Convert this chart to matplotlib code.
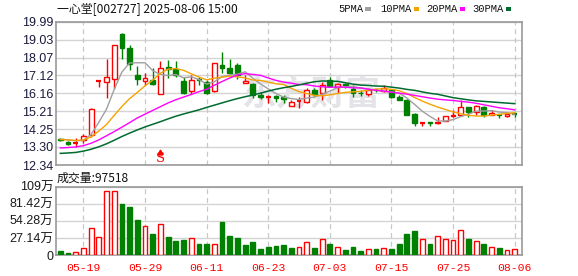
import matplotlib
matplotlib.use('Agg')
import matplotlib.pyplot as plt
from matplotlib.patches import Rectangle
import pandas as pd

# ---------------- data ----------------
opens = [13.72, 13.57, 13.50, 13.67, 13.94, 16.84, 16.79, 16.91, 19.33, 18.57,
         17.14, 16.84, 16.88, 16.13, 17.57, 17.45, 16.82, 16.31, 16.91, 16.79,
         16.28, 17.68, 17.50, 17.68, 16.73, 16.65, 16.06, 15.93, 16.00, 15.95,
         15.49, 15.72, 15.72, 16.34, 16.20, 16.88, 16.52, 16.64, 16.40, 16.19,
         16.10, 16.33, 16.31, 16.32, 15.94, 15.80, 15.04, 14.58, 14.62, 14.56,
         14.69, 14.96, 15.01, 15.42, 15.19, 15.45, 15.01, 15.03, 14.96, 15.08]
highs = [13.76, 13.62, 13.76, 13.98, 15.37, 16.86, 17.98, 18.72, 19.40, 18.74,
         17.62, 17.27, 17.53, 17.86, 17.94, 17.86, 17.05, 17.14, 17.02, 16.88,
         17.80, 18.35, 17.98, 17.77, 17.14, 16.73, 16.25, 16.08, 16.08, 16.08,
         15.81, 15.95, 16.43, 16.43, 16.79, 17.05, 16.70, 16.70, 16.61, 16.34,
         16.43, 16.40, 16.60, 16.40, 16.05, 15.84, 15.10, 14.62, 14.63, 14.88,
         14.97, 15.28, 15.81, 15.45, 15.54, 15.49, 15.28, 15.04, 15.05, 15.10]
lows = [13.60, 13.43, 13.32, 13.53, 13.85, 16.50, 15.90, 16.38, 17.98, 17.41,
        16.61, 16.61, 16.61, 16.10, 16.97, 17.05, 16.13, 16.13, 16.61, 16.13,
        16.23, 17.23, 17.20, 16.91, 16.70, 15.90, 15.85, 15.67, 15.72, 15.63,
        15.49, 15.37, 15.67, 16.02, 15.81, 16.52, 16.20, 16.45, 15.99, 16.02,
        16.02, 16.25, 16.25, 15.90, 15.78, 14.99, 14.42, 14.42, 14.42, 14.55,
        14.68, 14.88, 15.00, 14.88, 15.01, 14.92, 15.00, 14.85, 14.92, 14.88]
closes = [13.66, 13.48, 13.52, 13.89, 15.31, 16.84, 17.02, 18.72, 18.57, 17.71,
          16.93, 17.00, 16.65, 17.53, 17.46, 17.14, 16.17, 16.88, 16.86, 16.20,
          17.77, 17.53, 17.27, 17.14, 16.82, 16.08, 15.99, 15.95, 15.90, 15.86,
          15.72, 15.74, 16.34, 16.13, 16.61, 16.57, 16.66, 16.60, 16.20, 16.16,
          16.33, 16.30, 16.43, 15.96, 15.83, 15.03, 14.60, 14.61, 14.58, 14.65,
          14.96, 15.01, 15.42, 15.19, 15.49, 15.01, 15.10, 15.02, 15.04, 15.05]
volumes_wan = [6.4, 3.2, 4.2, 10.6, 42.4, 28.6, 101.7, 101.7, 81.0, 76.3,
               55.6, 45.5, 33.4, 48.7, 29.1, 22.2, 23.8, 26.5, 17.5, 17.5,
               16.9, 52.4, 30.2, 27.0, 15.9, 20.7, 9.5, 12.7, 14.3, 15.9,
               11.1, 12.7, 20.1, 11.1, 25.4, 17.5, 12.7, 7.9, 13.2, 6.4,
               9.0, 9.5, 10.6, 9.5, 17.5, 33.4, 38.1, 25.4, 17.5, 30.2,
               25.4, 23.8, 39.2, 25.4, 22.2, 17.5, 12.7, 11.1, 7.4, 9.7518]
ma5 = [13.72, 13.68, 13.63, 13.65, 13.97, 14.62, 15.32, 16.37, 17.30, 17.78,
       17.79, 17.79, 17.37, 17.16, 17.11, 17.16, 16.99, 17.04, 16.90, 16.65,
       16.78, 17.05, 17.13, 17.18, 17.31, 16.97, 16.66, 16.40, 16.15, 15.96,
       15.88, 15.83, 15.91, 15.96, 16.11, 16.28, 16.46, 16.51, 16.53, 16.44,
       16.39, 16.32, 16.28, 16.24, 16.17, 15.91, 15.57, 15.21, 14.93, 14.69,
       14.68, 14.76, 14.92, 15.05, 15.21, 15.22, 15.24, 15.16, 15.13, 15.04]
ma10 = [13.70, 13.68, 13.65, 13.67, 13.84, 14.15, 14.50, 14.99, 15.46, 15.88,
        16.21, 16.56, 16.87, 17.23, 17.45, 17.48, 17.39, 17.20, 17.03, 16.88,
        16.97, 17.02, 17.08, 17.04, 16.98, 16.87, 16.85, 16.76, 16.67, 16.63,
        16.43, 16.25, 16.15, 16.05, 16.03, 16.08, 16.15, 16.21, 16.24, 16.27,
        16.33, 16.39, 16.40, 16.38, 16.30, 16.15, 15.94, 15.75, 15.58, 15.43,
        15.30, 15.17, 15.07, 14.99, 14.95, 14.95, 15.00, 15.04, 15.09, 15.13]
ma20 = [13.25, 13.27, 13.30, 13.37, 13.50, 13.68, 13.90, 14.12, 14.36, 14.60,
        14.85, 15.05, 15.25, 15.45, 15.65, 15.82, 15.96, 16.10, 16.25, 16.38,
        16.59, 16.79, 16.98, 17.14, 17.21, 17.17, 17.12, 16.98, 16.85, 16.76,
        16.70, 16.63, 16.62, 16.55, 16.51, 16.48, 16.50, 16.49, 16.45, 16.45,
        16.38, 16.32, 16.28, 16.22, 16.17, 16.12, 16.05, 15.98, 15.91, 15.85,
        15.81, 15.78, 15.73, 15.69, 15.63, 15.55, 15.47, 15.39, 15.34, 15.28]
ma30 = [12.96, 12.98, 13.01, 13.08, 13.18, 13.31, 13.47, 13.66, 13.86, 14.04,
        14.21, 14.37, 14.51, 14.65, 14.80, 14.94, 15.06, 15.17, 15.28, 15.41,
        15.53, 15.65, 15.77, 15.88, 15.98, 16.07, 16.17, 16.28, 16.38, 16.46,
        16.53, 16.61, 16.70, 16.78, 16.82, 16.81, 16.80, 16.73, 16.65, 16.60,
        16.58, 16.55, 16.54, 16.49, 16.44, 16.37, 16.32, 16.24, 16.16, 16.11,
        16.02, 15.93, 15.87, 15.81, 15.76, 15.73, 15.70, 15.67, 15.64, 15.61]

price_ticks = [19.99, 19.03, 18.07, 17.12, 16.16, 15.21, 14.25, 13.30, 12.34]
vol_ticks = [0, 27.14, 54.28, 81.42, 108.56]
vol_tick_labels = ['0', '27.14万', '54.28万', '81.42万', '109万']
date_tick_labels = ['05-19', '05-29', '06-11', '06-23', '07-03', '07-15', '07-25', '08-06']
signal_label = 'S'
signal_date = '06-03'

days = pd.bdate_range('2025-05-14', '2025-08-06')
days = [d for d in days if d.strftime('%Y-%m-%d') != '2025-06-02']
date_strs = [d.strftime('%m-%d') for d in days]
n = len(closes)
xs = list(range(n))

RED = '#ff0000'
GREEN = '#008000'
GRID = '#d4d4d4'
VGRID = '#c8c8c8'
BORDER = '#999999'

W, H = 578, 276
fig = plt.figure(figsize=(W / 100, H / 100), dpi=100)
fig.patch.set_facecolor('white')

def fbox(l, t, r, b):
    return [l / W, 1 - b / H, (r - l) / W, (b - t) / H]

ax = fig.add_axes(fbox(56, 21.5, 522, 165))
axv = fig.add_axes(fbox(56, 186.7, 522, 255))

num_font = ['Liberation Sans', 'Noto Sans CJK SC']
tick_pos = [date_strs.index(l) for l in date_tick_labels]

for a in (ax, axv):
    a.set_xlim(-0.56, n - 0.05)
    for s in a.spines.values():
        s.set_color(BORDER)
        s.set_linewidth(1.2)
    a.tick_params(length=0)
    for tp in tick_pos:
        a.axvline(tp, color=VGRID, lw=0.9, ls=(0, (4, 3)), zorder=0.6)
    a.set_xticks(tick_pos)

# ---------------- price panel ----------------
ax.set_ylim(price_ticks[-1], price_ticks[0])
ax.set_yticks(price_ticks)
ax.set_yticklabels([f'{v:.2f}' for v in price_ticks], fontfamily=num_font,
                   fontsize=9, color='#1a1a3c')
ax.tick_params(axis='y', pad=2)
ax.set_xticklabels([])
for v in price_ticks:
    ax.axhline(v, color=GRID, lw=1.0, zorder=0.5)

# watermark
ax.text(32.6, 16.12, '东方财富', fontfamily=['Noto Sans CJK SC'], fontsize=25,
        fontweight='bold', color='#e3e3e8', ha='center', va='center', zorder=0.7)

bw = 0.62
for i in xs:
    o, h, l, c = opens[i], highs[i], lows[i], closes[i]
    up = c >= o
    col = RED if up else GREEN
    top, bot = max(o, c), min(o, c)
    ax.vlines(i, l, h, color=col, lw=1.0, zorder=3)
    if top - bot < 0.03:
        ax.hlines((o + c) / 2, i - bw / 2, i + bw / 2, color=col, lw=1.6, zorder=4)
    else:
        ax.add_patch(Rectangle((i - bw / 2, bot), bw, top - bot,
                               facecolor='white' if up else col,
                               edgecolor=col, lw=1.0, zorder=4))

ax.plot(xs, ma5, color='#a0a0a0', lw=1.0, zorder=5)
ax.plot(xs, ma10, color='#f5a300', lw=1.0, zorder=5)
ax.plot(xs, ma20, color='#ff00ff', lw=1.0, zorder=5)
ax.plot(xs, ma30, color='#006b2e', lw=1.1, zorder=5)

sx = date_strs.index(signal_date)
ax.text(sx, 12.66, signal_label, color=RED, fontsize=9.5, fontfamily=['DejaVu Serif'],
        ha='center', va='center', zorder=6)
ax.plot([sx], [13.02], marker='^', color=RED, markersize=3.5, zorder=6)

# ---------------- volume panel ----------------
axv.set_ylim(0, vol_ticks[-1])
axv.set_yticks(vol_ticks)
axv.set_yticklabels(vol_tick_labels, fontfamily=num_font, fontsize=9, color='#1a1a1a')
axv.tick_params(axis='y', pad=2)
for v in vol_ticks:
    axv.axhline(v, color=GRID, lw=1.0, zorder=0.5)
axv.set_xticklabels(date_tick_labels, fontfamily=['Liberation Mono'], fontsize=8.2,
                    color=RED)
axv.tick_params(axis='x', pad=6)

for i in xs:
    prev = closes[i - 1] if i > 0 else opens[i]
    up = closes[i] >= prev
    col = RED if up else GREEN
    axv.add_patch(Rectangle((i - bw / 2, 0), bw, volumes_wan[i],
                            facecolor='white' if up else col,
                            edgecolor=col, lw=1.0, zorder=3))

# ---------------- texts ----------------
fig.text(57 / W, 1 - 8.5 / H, '一心堂[002727] 2025-08-06 15:00',
         fontfamily=['Noto Sans CJK SC'], fontsize=8.6, color='#111111',
         ha='left', va='center')
fig.text(57 / W, 1 - 178 / H, '成交量:%d' % round(volumes_wan[-1] * 10000),
         fontfamily=['Noto Sans CJK SC'], fontsize=8.6, color='#111111',
         ha='left', va='center')

legend_items = [('5PMA', '#a0a0a0', 338), ('10PMA', '#f5a300', 380),
                ('20PMA', '#ff00ff', 426), ('30PMA', '#006b2e', 472)]
for name, colr, px in legend_items:
    fig.text(px / W, 1 - 9 / H, name, fontfamily=['Liberation Mono'],
             fontsize=7.6, color='#111111', ha='left', va='center')
    qx = px + len(name) * 6.3 + 2
    fig.patches.append(Rectangle((qx / W, 1 - 10.5 / H), 5.5 / W, 3.5 / H,
                                 transform=fig.transFigure, facecolor=colr,
                                 edgecolor='none'))

fig.savefig('out.png', dpi=100, facecolor='white')
